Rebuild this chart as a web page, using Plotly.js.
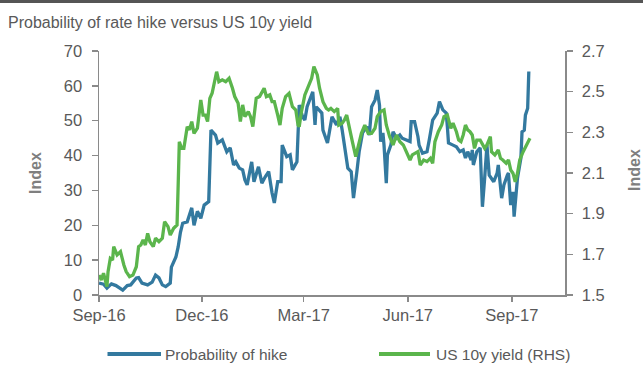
<!DOCTYPE html>
<html>
<head>
<meta charset="utf-8">
<script src="https://cdn.plot.ly/plotly-3.0.1.min.js"></script>
<style>html,body{margin:0;padding:0;background:#fff;}#chart{width:643px;height:369px;}</style>
</head>
<body>
<div id="chart"></div>
<script>
// ---- data ----
const hikeDates = ["2016-09-01","2016-09-05","2016-09-08","2016-09-12","2016-09-16","2016-09-22","2016-09-26","2016-09-29","2016-10-04","2016-10-06","2016-10-09","2016-10-14","2016-10-18","2016-10-21","2016-10-24","2016-10-27","2016-10-30","2016-11-03","2016-11-04","2016-11-08","2016-11-10","2016-11-12","2016-11-14","2016-11-18","2016-11-22","2016-11-24","2016-11-27","2016-11-30","2016-12-03","2016-12-06","2016-12-07","2016-12-09","2016-12-13","2016-12-15","2016-12-19","2016-12-23","2016-12-26","2016-12-29","2016-12-31","2017-01-03","2017-01-06","2017-01-08","2017-01-10","2017-01-14","2017-01-16","2017-01-20","2017-01-23","2017-01-26","2017-01-29","2017-02-01","2017-02-03","2017-02-06","2017-02-09","2017-02-10","2017-02-14","2017-02-17","2017-02-19","2017-02-23","2017-02-24","2017-02-25","2017-02-28","2017-03-02","2017-03-04","2017-03-08","2017-03-09","2017-03-11","2017-03-12","2017-03-17","2017-03-18","2017-03-22","2017-03-25","2017-03-26","2017-03-30","2017-04-02","2017-04-04","2017-04-07","2017-04-09","2017-04-12","2017-04-13","2017-04-14","2017-04-17","2017-04-19","2017-04-22","2017-04-26","2017-04-28","2017-04-30","2017-05-03","2017-05-05","2017-05-07","2017-05-08","2017-05-10","2017-05-11","2017-05-13","2017-05-14","2017-05-17","2017-05-19","2017-05-22","2017-05-25","2017-05-27","2017-05-31","2017-06-03","2017-06-04","2017-06-07","2017-06-10","2017-06-11","2017-06-14","2017-06-18","2017-06-20","2017-06-23","2017-06-27","2017-06-29","2017-07-02","2017-07-05","2017-07-06","2017-07-07","2017-07-11","2017-07-14","2017-07-17","2017-07-20","2017-07-22","2017-07-24","2017-07-27","2017-07-28","2017-07-29","2017-08-01","2017-08-04","2017-08-05","2017-08-06","2017-08-08","2017-08-10","2017-08-12","2017-08-14","2017-08-16","2017-08-19","2017-08-20","2017-08-23","2017-08-25","2017-08-28","2017-08-29","2017-08-31","2017-09-02","2017-09-03","2017-09-04","2017-09-06","2017-09-09","2017-09-10","2017-09-12","2017-09-13","2017-09-15","2017-09-16"];
const hikeValues = [3.4,3.1,2.0,3.2,2.7,1.4,2.7,2.9,4.9,5.0,3.4,2.9,3.7,5.7,4.9,2.9,2.4,3.4,8.0,10.9,13.8,18,20.6,21,25,20,24,22,25.8,26.4,26.8,47.3,45.9,43.6,44.5,41.1,42.2,37.3,38.2,36.4,35.9,33,31.6,38.2,32.5,36.8,32.1,33.9,35.4,29.3,26.4,32.5,32.5,43,39.7,40.2,35.9,38.2,47.3,54.5,51.1,50.2,54,57.4,58.3,48.8,54,52.2,47.3,43.6,50.2,51.1,48.8,51.1,47.3,39.7,36.4,35.4,32.5,27.8,35.4,41.1,46.5,48.3,45.9,54,55.9,58.8,54.5,44,46.5,43,32.1,40.2,43,46.8,45,45.9,45,44.5,44,49.7,49.7,45.4,43,40.7,41.1,44.5,50.2,52.2,55.5,53.1,52.2,48.3,43.6,43,42.5,41.1,41.6,39.3,41.1,38.7,41.6,37.3,41.1,42.2,35,25.3,33.6,43,34.4,33.6,32.5,35,37.3,27.8,31.6,34.4,35,25.8,29.6,22.5,26.8,33.6,39.3,46.8,47.3,51.6,53.6,64.1];

const yieldDates = ["2016-09-01","2016-09-03","2016-09-05","2016-09-08","2016-09-09","2016-09-11","2016-09-13","2016-09-14","2016-09-17","2016-09-20","2016-09-23","2016-09-25","2016-09-28","2016-10-01","2016-10-04","2016-10-06","2016-10-08","2016-10-10","2016-10-12","2016-10-14","2016-10-16","2016-10-19","2016-10-21","2016-10-24","2016-10-27","2016-10-29","2016-11-01","2016-11-03","2016-11-06","2016-11-09","2016-11-10","2016-11-11","2016-11-13","2016-11-15","2016-11-18","2016-11-20","2016-11-22","2016-11-24","2016-11-27","2016-11-30","2016-12-02","2016-12-04","2016-12-06","2016-12-08","2016-12-10","2016-12-12","2016-12-14","2016-12-16","2016-12-19","2016-12-22","2016-12-25","2016-12-28","2016-12-30","2017-01-02","2017-01-04","2017-01-06","2017-01-08","2017-01-11","2017-01-13","2017-01-15","2017-01-18","2017-01-21","2017-01-23","2017-01-25","2017-01-27","2017-01-30","2017-02-01","2017-02-03","2017-02-06","2017-02-08","2017-02-10","2017-02-13","2017-02-16","2017-02-19","2017-02-22","2017-02-24","2017-02-25","2017-02-27","2017-03-02","2017-03-05","2017-03-08","2017-03-10","2017-03-13","2017-03-15","2017-03-18","2017-03-21","2017-03-23","2017-03-25","2017-03-28","2017-03-31","2017-04-01","2017-04-04","2017-04-06","2017-04-08","2017-04-10","2017-04-13","2017-04-16","2017-04-19","2017-04-21","2017-04-24","2017-04-27","2017-04-30","2017-05-03","2017-05-05","2017-05-08","2017-05-11","2017-05-13","2017-05-16","2017-05-19","2017-05-22","2017-05-25","2017-05-28","2017-05-31","2017-06-03","2017-06-05","2017-06-07","2017-06-10","2017-06-12","2017-06-15","2017-06-18","2017-06-21","2017-06-23","2017-06-25","2017-06-28","2017-07-01","2017-07-03","2017-07-06","2017-07-09","2017-07-11","2017-07-14","2017-07-16","2017-07-18","2017-07-20","2017-07-22","2017-07-24","2017-07-26","2017-07-28","2017-07-30","2017-08-01","2017-08-04","2017-08-06","2017-08-08","2017-08-10","2017-08-13","2017-08-14","2017-08-17","2017-08-20","2017-08-22","2017-08-24","2017-08-27","2017-08-29","2017-08-31","2017-09-02","2017-09-04","2017-09-06","2017-09-08","2017-09-11","2017-09-14","2017-09-17"];
const yieldValues = [1.598,1.574,1.607,1.541,1.615,1.680,1.672,1.738,1.697,1.713,1.648,1.615,1.590,1.598,1.639,1.738,1.746,1.771,1.746,1.803,1.762,1.738,1.779,1.762,1.779,1.861,1.836,1.795,1.828,1.844,2.041,2.254,2.221,2.221,2.328,2.312,2.353,2.295,2.320,2.459,2.385,2.385,2.353,2.467,2.492,2.541,2.598,2.549,2.558,2.549,2.566,2.517,2.476,2.443,2.353,2.435,2.377,2.402,2.377,2.328,2.467,2.476,2.500,2.517,2.476,2.484,2.451,2.451,2.385,2.336,2.418,2.476,2.492,2.426,2.410,2.336,2.328,2.402,2.484,2.525,2.566,2.623,2.582,2.517,2.451,2.418,2.410,2.418,2.402,2.418,2.336,2.345,2.361,2.385,2.328,2.254,2.180,2.254,2.295,2.336,2.295,2.295,2.320,2.377,2.402,2.410,2.336,2.279,2.238,2.287,2.254,2.238,2.205,2.164,2.189,2.197,2.205,2.139,2.164,2.156,2.172,2.148,2.254,2.303,2.336,2.377,2.385,2.320,2.345,2.303,2.262,2.254,2.287,2.336,2.312,2.303,2.287,2.221,2.262,2.262,2.238,2.221,2.238,2.279,2.205,2.189,2.213,2.172,2.164,2.148,2.164,2.115,2.099,2.057,2.099,2.164,2.205,2.238,2.271];

const xTickDates = ["2016-09-01","2016-12-01","2017-03-01","2017-06-01","2017-09-01"];
const xTickLabels = ["Sep-16","Dec-16","Mar-17","Jun-17","Sep-17"];
const leftTicks = [0,10,20,30,40,50,60,70];
const rightTicks = [1.5,1.7,1.9,2.1,2.3,2.5,2.7];
const seriesNames = ["Probability of hike","US 10y yield (RHS)"];
const titleText = "Probability of rate hike versus US 10y yield";
const axisTitle = "Index";

// ---- style / layout ----
const W = 643, H = 369;
const M = {l: 99, r: 78, t: 51, b: 74};
const PW = W - M.l - M.r, PH = H - M.t - M.b;
const px = x => (x - M.l) / PW;           // pixel -> paper x
const py = y => (H - M.b - y) / PH;       // pixel -> paper y
const BLUE = "#33799f", GREEN = "#5bb54c";
const AX = "#8a8a8a", TXT = "#595959";
const FONT = "Liberation Sans, Arial, sans-serif";
const LEG_Y = 354;

const traces = [
  {x: hikeDates, y: hikeValues, name: seriesNames[0], type: "scatter", mode: "lines",
   line: {color: BLUE, width: 3.3}, yaxis: "y", showlegend: false, hoverinfo: "skip"},
  {x: yieldDates, y: yieldValues, name: seriesNames[1], type: "scatter", mode: "lines",
   line: {color: GREEN, width: 3.3}, yaxis: "y2", showlegend: false, hoverinfo: "skip"}
];

const tickCommon = {
  ticks: "outside", tickcolor: AX, tickwidth: 1.5, showline: true, linecolor: AX, linewidth: 1.5,
  showgrid: false, zeroline: false, fixedrange: true,
  tickfont: {family: FONT, size: 16.5, color: TXT}
};

const layout = {
  width: W, height: H, margin: M, paper_bgcolor: "#fff", plot_bgcolor: "#fff",
  font: {family: FONT, color: TXT},
  title: {text: titleText, x: 8 / W, xanchor: "left", xref: "container",
          y: 1 - 22 / H, yanchor: "middle", yref: "container",
          font: {family: FONT, size: 16, color: TXT}},
  xaxis: Object.assign({}, tickCommon, {type: "date", range: ["2016-09-01", "2017-10-18"],
          tickmode: "array", tickvals: xTickDates, ticktext: xTickLabels, ticklen: 5}),
  yaxis: Object.assign({}, tickCommon, {range: [0, 70], tickmode: "array", tickvals: leftTicks,
          ticklen: 6, ticklabelstandoff: 6}),
  yaxis2: Object.assign({}, tickCommon, {range: [1.5, 2.7], overlaying: "y", side: "right",
          tickmode: "array", tickvals: rightTicks, ticktext: rightTicks.map(v => v.toFixed(1)),
          ticklen: 6, ticklabelstandoff: 6}),
  showlegend: false,
  shapes: [
    {type: "line", xref: "paper", yref: "paper", x0: px(0), x1: px(W), y0: py(1.5), y1: py(1.5),
     line: {color: "#555555", width: 3}},
    {type: "line", xref: "paper", yref: "paper", x0: px(107.5), x1: px(161), y0: py(LEG_Y), y1: py(LEG_Y),
     line: {color: BLUE, width: 4}},
    {type: "line", xref: "paper", yref: "paper", x0: px(379), x1: px(430), y0: py(LEG_Y), y1: py(LEG_Y),
     line: {color: GREEN, width: 4}}
  ],
  annotations: [
    {text: axisTitle, xref: "paper", yref: "paper", x: px(35), y: py(173), textangle: -90,
     showarrow: false, xanchor: "center", yanchor: "middle",
     font: {family: FONT, size: 16, color: "#7f7f7f", weight: "bold"}},
    {text: axisTitle, xref: "paper", yref: "paper", x: px(634), y: py(170), textangle: -90,
     showarrow: false, xanchor: "center", yanchor: "middle",
     font: {family: FONT, size: 16, color: "#7f7f7f", weight: "bold"}},
    {text: seriesNames[0], xref: "paper", yref: "paper", x: px(163), y: py(LEG_Y),
     showarrow: false, xanchor: "left", yanchor: "middle",
     font: {family: FONT, size: 15.5, color: TXT}},
    {text: seriesNames[1], xref: "paper", yref: "paper", x: px(434), y: py(LEG_Y),
     showarrow: false, xanchor: "left", yanchor: "middle",
     font: {family: FONT, size: 15.5, color: TXT}}
  ]
};

Plotly.newPlot("chart", traces, layout, {displayModeBar: false, staticPlot: true});
</script>
</body>
</html>
